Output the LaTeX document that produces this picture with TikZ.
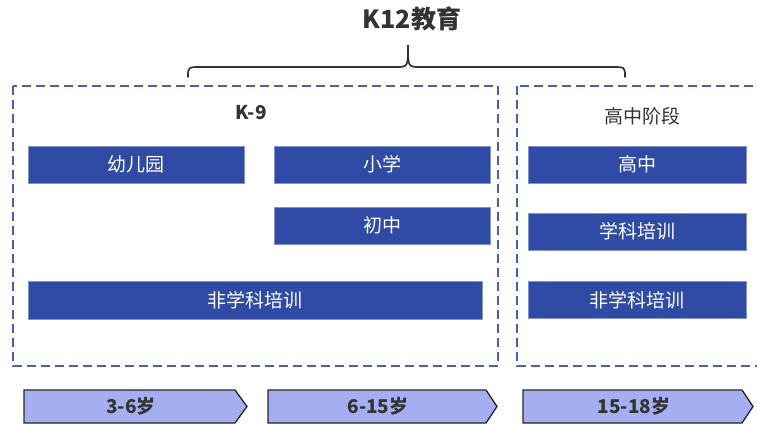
\documentclass[tikz,border=0pt]{standalone}
\usepackage{fontspec}
\setmainfont{Noto Sans CJK SC}
\definecolor{boxblue}{HTML}{2F4BA5}
\definecolor{dashblue}{HTML}{4A5FB3}
\definecolor{chev}{HTML}{A5AEF0}
\definecolor{txt}{HTML}{333333}
\tikzset{
  bluebox/.style={draw=boxblue!60!white,line width=0.6pt,fill=boxblue,text=white,font=\fontsize{19}{21}\selectfont,inner sep=0pt},
  dashbox/.style={draw=dashblue,line width=2.2pt,dash pattern=on 9pt off 5pt},
  chevron/.style={draw=black!85,line width=1.3pt,fill=chev,line join=miter},
  chevtext/.style={text=txt,font=\bfseries\fontsize{19}{21}\selectfont},
  heading/.style={text=txt,font=\fontsize{19}{21}\selectfont},
}
\begin{document}
\begin{tikzpicture}[x=1pt,y=-1pt]
\useasboundingbox (0,0) rectangle (757,425);
% title and brace
\node[text=txt,font=\bfseries\fontsize{25}{27}\selectfont] (title) at (412,19) {K12教育};
\coordinate (bl) at (188,77);
\coordinate (br) at (625,77);
\coordinate (tip) at (408,45);
\draw[txt,line width=1.7pt,line cap=round] (bl) .. controls (188,67) .. (201,67) -- (396,67)
  .. controls (408,67) .. (tip) .. controls (408,67) .. (420,67) -- (612,67)
  .. controls (625,67) .. (br);
% dashed boxes
\draw[dashbox] (13,86) rectangle (498,366);
\draw[dashbox] (517,86) rectangle (775,366);
\node[text=txt,font=\bfseries\fontsize{19}{21}\selectfont] (k9) at (251,113) {K-9};
\node[heading] (gz) at (642,116) {高中阶段};
% blue boxes
\node[bluebox,minimum width=216pt,minimum height=37pt] (yey) at (136,164.5) {幼儿园};
\node[bluebox,minimum width=216pt,minimum height=37pt] (xx) at (382,164.5) {小学};
\node[bluebox,minimum width=216pt,minimum height=37pt] (cz) at (382,225.5) {初中};
\node[bluebox,minimum width=454pt,minimum height=38pt] (fxk1) at (255,300) {非学科培训};
\node[bluebox,minimum width=218pt,minimum height=37pt] (gaoz) at (637,164.5) {高中};
\node[bluebox,minimum width=218pt,minimum height=37pt] (xkpx) at (637,231.5) {学科培训};
\node[bluebox,minimum width=218pt,minimum height=37pt] (fxk2) at (637,300) {非学科培训};
% chevrons
\draw[chevron] (24,390) -- (235,390) -- (247,406.5) -- (235,423) -- (24,423) -- cycle;
\node[chevtext] (c1) at (131,406.5) {3-6岁};
\draw[chevron] (268,390) -- (486,390) -- (497,406.5) -- (486,423) -- (268,423) -- cycle;
\node[chevtext] (c2) at (378,406.5) {6-15岁};
\draw[chevron] (523,390) -- (742,390) -- (753,406.5) -- (742,423) -- (523,423) -- cycle;
\node[chevtext] (c3) at (634,406.5) {15-18岁};
\end{tikzpicture}
\end{document}
